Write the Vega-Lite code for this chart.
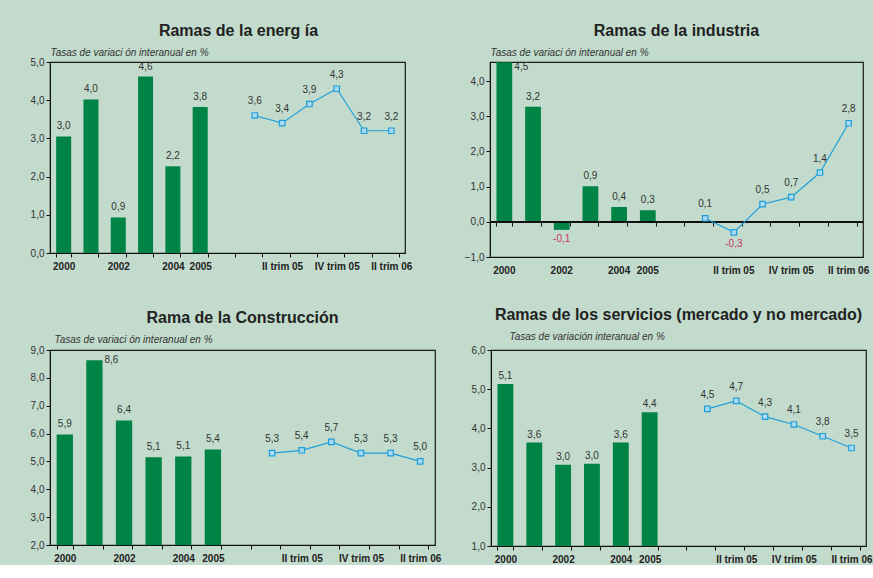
{
  "$schema": "https://vega.github.io/schema/vega-lite/v6.json",
  "background": "#c2dbcc",
  "padding": {"left": 29, "top": 22, "right": 0, "bottom": 0},
  "spacing": 30,
  "datasets": {
    "energia": [
      {"cat": "2000", "kind": "a", "value": 3.05, "label": "3,0"},
      {"cat": "2001", "kind": "a", "value": 4.02, "label": "4,0"},
      {"cat": "2002", "kind": "a", "value": 0.93, "label": "0,9"},
      {"cat": "2003", "kind": "a", "value": 4.62, "label": "4,6"},
      {"cat": "2004", "kind": "a", "value": 2.27, "label": "2,2"},
      {"cat": "2005", "kind": "a", "value": 3.82, "label": "3,8"},
      {"cat": "I trim 05", "kind": "q", "value": 3.6, "label": "3,6"},
      {"cat": "II trim 05", "kind": "q", "value": 3.4, "label": "3,4"},
      {"cat": "III trim 05", "kind": "q", "value": 3.9, "label": "3,9"},
      {"cat": "IV trim 05", "kind": "q", "value": 4.3, "label": "4,3"},
      {"cat": "I trim 06", "kind": "q", "value": 3.2, "label": "3,2"},
      {"cat": "II trim 06", "kind": "q", "value": 3.2, "label": "3,2"}
    ],
    "industria": [
      {"cat": "2000", "kind": "a", "value": 4.53, "label": "4,5"},
      {"cat": "2001", "kind": "a", "value": 3.27, "label": "3,2"},
      {"cat": "2002", "kind": "a", "value": -0.23, "label": "-0,1"},
      {"cat": "2003", "kind": "a", "value": 1.01, "label": "0,9"},
      {"cat": "2004", "kind": "a", "value": 0.42, "label": "0,4"},
      {"cat": "2005", "kind": "a", "value": 0.33, "label": "0,3"},
      {"cat": "I trim 05", "kind": "q", "value": 0.1, "label": "0,1"},
      {"cat": "II trim 05", "kind": "q", "value": -0.3, "label": "-0,3"},
      {"cat": "III trim 05", "kind": "q", "value": 0.5, "label": "0,5"},
      {"cat": "IV trim 05", "kind": "q", "value": 0.7, "label": "0,7"},
      {"cat": "I trim 06", "kind": "q", "value": 1.4, "label": "1,4"},
      {"cat": "II trim 06", "kind": "q", "value": 2.8, "label": "2,8"}
    ],
    "construccion": [
      {"cat": "2000", "kind": "a", "value": 5.97, "label": "5,9"},
      {"cat": "2001", "kind": "a", "value": 8.63, "label": "8,6"},
      {"cat": "2002", "kind": "a", "value": 6.47, "label": "6,4"},
      {"cat": "2003", "kind": "a", "value": 5.15, "label": "5,1"},
      {"cat": "2004", "kind": "a", "value": 5.18, "label": "5,1"},
      {"cat": "2005", "kind": "a", "value": 5.43, "label": "5,4"},
      {"cat": "I trim 05", "kind": "q", "value": 5.3, "label": "5,3"},
      {"cat": "II trim 05", "kind": "q", "value": 5.4, "label": "5,4"},
      {"cat": "III trim 05", "kind": "q", "value": 5.7, "label": "5,7"},
      {"cat": "IV trim 05", "kind": "q", "value": 5.3, "label": "5,3"},
      {"cat": "I trim 06", "kind": "q", "value": 5.3, "label": "5,3"},
      {"cat": "II trim 06", "kind": "q", "value": 5.0, "label": "5,0"}
    ],
    "servicios": [
      {"cat": "2000", "kind": "a", "value": 5.13, "label": "5,1"},
      {"cat": "2001", "kind": "a", "value": 3.64, "label": "3,6"},
      {"cat": "2002", "kind": "a", "value": 3.07, "label": "3,0"},
      {"cat": "2003", "kind": "a", "value": 3.1, "label": "3,0"},
      {"cat": "2004", "kind": "a", "value": 3.64, "label": "3,6"},
      {"cat": "2005", "kind": "a", "value": 4.41, "label": "4,4"},
      {"cat": "I trim 05", "kind": "q", "value": 4.5, "label": "4,5"},
      {"cat": "II trim 05", "kind": "q", "value": 4.7, "label": "4,7"},
      {"cat": "III trim 05", "kind": "q", "value": 4.3, "label": "4,3"},
      {"cat": "IV trim 05", "kind": "q", "value": 4.1, "label": "4,1"},
      {"cat": "I trim 06", "kind": "q", "value": 3.8, "label": "3,8"},
      {"cat": "II trim 06", "kind": "q", "value": 3.5, "label": "3,5"}
    ]
  },
  "config": {
    "font": "Liberation Sans",
    "view": {"stroke": "#1a1a1a", "strokeWidth": 1.2},
    "axis": {"labelFont": "Liberation Sans", "labelFontSize": 10, "labelColor": "#333333", "domainColor": "#111111", "tickColor": "#111111", "grid": false, "tickSize": 4, "labelPadding": 2},
    "axisY": {"labelOverlap": false, "tickCount": 20},
    "title": {"font": "Liberation Sans", "fontSize": 16, "fontWeight": "bold", "color": "#222222", "anchor": "middle", "frame": "group", "offset": 8},
    "text": {"font": "Liberation Sans", "fontSize": 10, "color": "#333333"}
  },
  "vconcat": [
    {
      "spacing": 50,
      "hconcat": [
        {
          "width": 355, "height": 191,
          "title": {"text": "Ramas de la energ ía", "dx": 11},
          "data": {"name": "energia"},
          "layer": [
            {
              "transform": [{"filter": "datum.kind == 'a'"}],
              "mark": {"type": "bar", "color": "#008445"},
              "encoding": {
                "x": {"field": "cat", "type": "nominal", "sort": null,
                  "scale": {"domain": ["2000","2001","2002","2003","2004","2005"," ","I trim 05","II trim 05","III trim 05","IV trim 05","I trim 06","II trim 06"], "paddingInner": 0.45, "paddingOuter": 0.225},
                  "axis": {"title": null, "labelAngle": 0, "labelFontWeight": "bold", "labelColor": "#222222", "tickBand": "extent", "labelPadding": 4, "labelOverlap": false,
                    "labelExpr": "indexof(['2000','2002','2004','2005','II trim 05','IV trim 05','II trim 06'], datum.label) >= 0 ? datum.label : ''"}},
                "y": {"field": "value", "type": "quantitative",
                  "scale": {"domain": [0, 5], "nice": false, "zero": false},
                  "axis": {"values": [0,1,2,3,4,5], "tickCount": 20, "labelOverlap": false, "labelExpr": "replace(format(datum.value,'.1f'),'.',',')",
                    "title": "Tasas de variaci ón interanual en %", "titleAngle": 0, "titleX": 0, "titleY": -7, "titleAlign": "left", "titleBaseline": "alphabetic",
                    "titleFontStyle": "italic", "titleFontWeight": "normal", "titleFontSize": 10, "titleColor": "#333333", "titleFont": "Liberation Sans"}}
              }
            },
            {
              "transform": [{"filter": "datum.kind == 'a'"}],
              "mark": {"type": "text", "baseline": "bottom", "dy": -5},
              "encoding": {"x": {"field": "cat", "type": "nominal", "sort": null}, "y": {"field": "value", "type": "quantitative"}, "text": {"field": "label"}}
            },
            {
              "transform": [{"filter": "datum.kind == 'q'"}],
              "mark": {"type": "line", "color": "#1f9fd9", "strokeWidth": 1.2},
              "encoding": {"x": {"field": "cat", "type": "nominal", "sort": null}, "y": {"field": "value", "type": "quantitative"}}
            },
            {
              "transform": [{"filter": "datum.kind == 'q'"}],
              "mark": {"type": "point", "shape": "square", "size": 30, "filled": true, "fill": "#aad9f2", "stroke": "#1f9fd9", "strokeWidth": 1.2, "opacity": 1},
              "encoding": {"x": {"field": "cat", "type": "nominal", "sort": null}, "y": {"field": "value", "type": "quantitative"}}
            },
            {
              "transform": [{"filter": "datum.kind == 'q'"}],
              "mark": {"type": "text", "baseline": "bottom", "dy": -9},
              "encoding": {"x": {"field": "cat", "type": "nominal", "sort": null}, "y": {"field": "value", "type": "quantitative"}, "text": {"field": "label"}}
            }
          ]
        },
        {
          "width": 373, "height": 195,
          "title": {"text": "Ramas de la industria"},
          "data": {"name": "industria"},
          "resolve": {"axis": {"x": "independent"}},
          "layer": [
            {
              "transform": [{"filter": "datum.kind == 'a'"}],
              "mark": {"type": "bar", "color": "#008445"},
              "encoding": {
                "x": {"field": "cat", "type": "nominal", "sort": null,
                  "scale": {"domain": ["2000","2001","2002","2003","2004","2005"," ","I trim 05","II trim 05","III trim 05","IV trim 05","I trim 06","II trim 06"], "paddingInner": 0.45, "paddingOuter": 0.225},
                  "axis": {"title": null, "orient": "bottom", "labelAngle": 0, "labelFontWeight": "bold", "labelColor": "#222222", "ticks": false, "labelPadding": 8, "labelOverlap": false,
                    "labelExpr": "indexof(['2000','2002','2004','2005','II trim 05','IV trim 05','II trim 06'], datum.label) >= 0 ? datum.label : ''"}},
                "y": {"field": "value", "type": "quantitative",
                  "scale": {"domain": [-1, 4.54], "nice": false, "zero": false},
                  "axis": {"values": [-1,0,1,2,3,4], "tickCount": 20, "labelOverlap": false, "labelExpr": "replace(format(datum.value,'.1f'),'.',',')",
                    "title": "Tasas de variaci ón interanual en %", "titleAngle": 0, "titleX": 0, "titleY": -7, "titleAlign": "left", "titleBaseline": "alphabetic",
                    "titleFontStyle": "italic", "titleFontWeight": "normal", "titleFontSize": 10, "titleColor": "#333333", "titleFont": "Liberation Sans"}}
              }
            },
            {
              "mark": {"type": "rule", "color": "#111111", "strokeWidth": 1.2},
              "encoding": {"y": {"datum": 0, "type": "quantitative"}}
            },
            {
              "transform": [{"filter": "datum.kind == 'a' && datum.value >= 0 && datum.cat != '2000'"}],
              "mark": {"type": "text", "baseline": "bottom", "dy": -5},
              "encoding": {"x": {"field": "cat", "type": "nominal", "sort": null, "axis": null}, "y": {"field": "value", "type": "quantitative"}, "text": {"field": "label"}}
            },
            {
              "transform": [{"filter": "datum.kind == 'a' && datum.cat == '2000'"}],
              "mark": {"type": "text", "baseline": "top", "align": "left", "dx": 10, "dy": 0},
              "encoding": {"x": {"field": "cat", "type": "nominal", "sort": null, "axis": null}, "y": {"field": "value", "type": "quantitative"}, "text": {"field": "label"}}
            },
            {
              "transform": [{"filter": "datum.kind == 'a' && datum.value < 0"}],
              "mark": {"type": "text", "baseline": "top", "dy": 4, "color": "#cc3366"},
              "encoding": {"x": {"field": "cat", "type": "nominal", "sort": null, "axis": null}, "y": {"field": "value", "type": "quantitative"}, "text": {"field": "label"}}
            },
            {
              "transform": [{"filter": "datum.kind == 'q'"}],
              "mark": {"type": "line", "color": "#1f9fd9", "strokeWidth": 1.2},
              "encoding": {"x": {"field": "cat", "type": "nominal", "sort": null,
                "axis": {"title": null, "orient": "bottom", "labels": false, "domain": false, "ticks": true, "tickBand": "extent", "tickSize": 4, "offset": -35}},
                "y": {"field": "value", "type": "quantitative"}}
            },
            {
              "transform": [{"filter": "datum.kind == 'q'"}],
              "mark": {"type": "point", "shape": "square", "size": 30, "filled": true, "fill": "#aad9f2", "stroke": "#1f9fd9", "strokeWidth": 1.2, "opacity": 1},
              "encoding": {"x": {"field": "cat", "type": "nominal", "sort": null, "axis": null}, "y": {"field": "value", "type": "quantitative"}}
            },
            {
              "transform": [{"filter": "datum.kind == 'q' && datum.value >= 0"}],
              "mark": {"type": "text", "baseline": "bottom", "dy": -9},
              "encoding": {"x": {"field": "cat", "type": "nominal", "sort": null, "axis": null}, "y": {"field": "value", "type": "quantitative"}, "text": {"field": "label"}}
            },
            {
              "transform": [{"filter": "datum.kind == 'q' && datum.value < 0"}],
              "mark": {"type": "text", "baseline": "top", "dy": 7, "color": "#cc3366"},
              "encoding": {"x": {"field": "cat", "type": "nominal", "sort": null, "axis": null}, "y": {"field": "value", "type": "quantitative"}, "text": {"field": "label"}}
            }
          ]
        }
      ]
    },
    {
      "spacing": 28,
      "hconcat": [
        {
          "width": 385, "height": 195,
          "title": {"text": "Rama de la Construcción", "offset": 8},
          "data": {"name": "construccion"},
          "layer": [
            {
              "transform": [{"filter": "datum.kind == 'a'"}],
              "mark": {"type": "bar", "color": "#008445", "clip": true},
              "encoding": {
                "x": {"field": "cat", "type": "nominal", "sort": null,
                  "scale": {"domain": ["2000","2001","2002","2003","2004","2005"," ","I trim 05","II trim 05","III trim 05","IV trim 05","I trim 06","II trim 06"], "paddingInner": 0.45, "paddingOuter": 0.225},
                  "axis": {"title": null, "labelAngle": 0, "labelFontWeight": "bold", "labelColor": "#222222", "tickBand": "extent", "labelPadding": 4, "labelOverlap": false,
                    "labelExpr": "indexof(['2000','2002','2004','2005','II trim 05','IV trim 05','II trim 06'], datum.label) >= 0 ? datum.label : ''"}},
                "y": {"field": "value", "type": "quantitative",
                  "scale": {"domain": [2, 9], "nice": false, "zero": false},
                  "axis": {"values": [2,3,4,5,6,7,8,9], "tickCount": 20, "labelOverlap": false, "labelExpr": "replace(format(datum.value,'.1f'),'.',',')",
                    "title": "Tasas de variaci ón interanual en %", "titleAngle": 0, "titleX": 4, "titleY": -8, "titleAlign": "left", "titleBaseline": "alphabetic",
                    "titleFontStyle": "italic", "titleFontWeight": "normal", "titleFontSize": 10, "titleColor": "#333333", "titleFont": "Liberation Sans"}}
              }
            },
            {
              "transform": [{"filter": "datum.kind == 'a' && datum.cat != '2001'"}],
              "mark": {"type": "text", "baseline": "bottom", "dy": -5},
              "encoding": {"x": {"field": "cat", "type": "nominal", "sort": null}, "y": {"field": "value", "type": "quantitative"}, "text": {"field": "label"}}
            },
            {
              "transform": [{"filter": "datum.kind == 'a' && datum.cat == '2001'"}],
              "mark": {"type": "text", "baseline": "middle", "align": "left", "dx": 10},
              "encoding": {"x": {"field": "cat", "type": "nominal", "sort": null}, "y": {"field": "value", "type": "quantitative"}, "text": {"field": "label"}}
            },
            {
              "transform": [{"filter": "datum.kind == 'q'"}],
              "mark": {"type": "line", "color": "#1f9fd9", "strokeWidth": 1.2},
              "encoding": {"x": {"field": "cat", "type": "nominal", "sort": null}, "y": {"field": "value", "type": "quantitative"}}
            },
            {
              "transform": [{"filter": "datum.kind == 'q'"}],
              "mark": {"type": "point", "shape": "square", "size": 30, "filled": true, "fill": "#aad9f2", "stroke": "#1f9fd9", "strokeWidth": 1.2, "opacity": 1},
              "encoding": {"x": {"field": "cat", "type": "nominal", "sort": null}, "y": {"field": "value", "type": "quantitative"}}
            },
            {
              "transform": [{"filter": "datum.kind == 'q'"}],
              "mark": {"type": "text", "baseline": "bottom", "dy": -9},
              "encoding": {"x": {"field": "cat", "type": "nominal", "sort": null}, "y": {"field": "value", "type": "quantitative"}, "text": {"field": "label"}}
            }
          ]
        },
        {
          "width": 375, "height": 196,
          "title": {"text": "Ramas de los servicios (mercado y no mercado)", "offset": 8},
          "data": {"name": "servicios"},
          "layer": [
            {
              "transform": [{"filter": "datum.kind == 'a'"}],
              "mark": {"type": "bar", "color": "#008445", "clip": true},
              "encoding": {
                "x": {"field": "cat", "type": "nominal", "sort": null,
                  "scale": {"domain": ["2000","2001","2002","2003","2004","2005"," ","I trim 05","II trim 05","III trim 05","IV trim 05","I trim 06","II trim 06"], "paddingInner": 0.45, "paddingOuter": 0.225},
                  "axis": {"title": null, "labelAngle": 0, "labelFontWeight": "bold", "labelColor": "#222222", "tickBand": "extent", "labelPadding": 4, "labelOverlap": false,
                    "labelExpr": "indexof(['2000','2002','2004','2005','II trim 05','IV trim 05','II trim 06'], datum.label) >= 0 ? datum.label : ''"}},
                "y": {"field": "value", "type": "quantitative",
                  "scale": {"domain": [1, 6], "nice": false, "zero": false},
                  "axis": {"values": [1,2,3,4,5,6], "tickCount": 20, "labelOverlap": false, "labelExpr": "replace(format(datum.value,'.1f'),'.',',')",
                    "title": "Tasas de variación interanual en %", "titleAngle": 0, "titleX": 18, "titleY": -11, "titleAlign": "left", "titleBaseline": "alphabetic",
                    "titleFontStyle": "italic", "titleFontWeight": "normal", "titleFontSize": 10, "titleColor": "#333333", "titleFont": "Liberation Sans"}}
              }
            },
            {
              "transform": [{"filter": "datum.kind == 'a'"}],
              "mark": {"type": "text", "baseline": "bottom", "dy": -3},
              "encoding": {"x": {"field": "cat", "type": "nominal", "sort": null}, "y": {"field": "value", "type": "quantitative"}, "text": {"field": "label"}}
            },
            {
              "transform": [{"filter": "datum.kind == 'q'"}],
              "mark": {"type": "line", "color": "#1f9fd9", "strokeWidth": 1.2},
              "encoding": {"x": {"field": "cat", "type": "nominal", "sort": null}, "y": {"field": "value", "type": "quantitative"}}
            },
            {
              "transform": [{"filter": "datum.kind == 'q'"}],
              "mark": {"type": "point", "shape": "square", "size": 30, "filled": true, "fill": "#aad9f2", "stroke": "#1f9fd9", "strokeWidth": 1.2, "opacity": 1},
              "encoding": {"x": {"field": "cat", "type": "nominal", "sort": null}, "y": {"field": "value", "type": "quantitative"}}
            },
            {
              "transform": [{"filter": "datum.kind == 'q'"}],
              "mark": {"type": "text", "baseline": "bottom", "dy": -9},
              "encoding": {"x": {"field": "cat", "type": "nominal", "sort": null}, "y": {"field": "value", "type": "quantitative"}, "text": {"field": "label"}}
            }
          ]
        }
      ]
    }
  ]
}
